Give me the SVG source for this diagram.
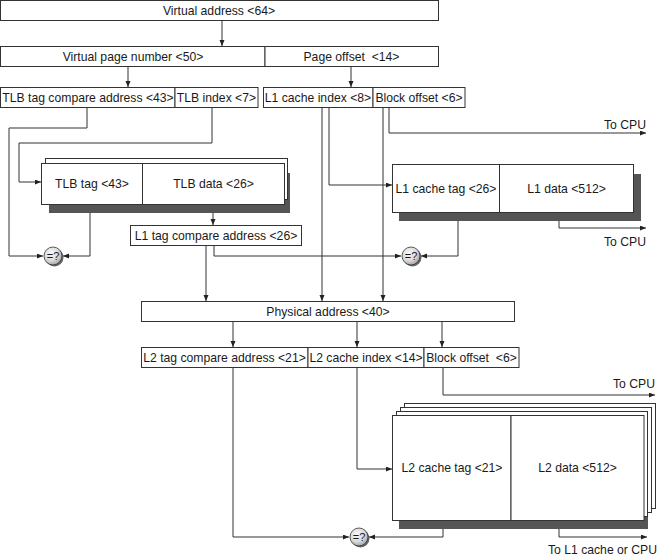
<svg xmlns="http://www.w3.org/2000/svg" width="659" height="556" viewBox="0 0 659 556">
<style>
  .box{fill:#fff;stroke:#333;stroke-width:1}
  .shadow{fill:#555;stroke:none}
  .t{font-family:"Liberation Sans",Arial,sans-serif;font-size:12.2px;fill:#1a1a1a;text-anchor:middle}
  .tr{font-family:"Liberation Sans",Arial,sans-serif;font-size:12.2px;fill:#1a1a1a;text-anchor:end}
  .ln{fill:none;stroke:#333;stroke-width:1}
  .arr{marker-end:url(#ah)}
  .cmp{fill:url(#cg);stroke:#333;stroke-width:0.8}
  .cmpsh{fill:#666}
  .ct{font-family:"Liberation Sans",Arial,sans-serif;font-size:11px;fill:#1a1a1a;text-anchor:middle}
</style>
<defs>
  <marker id="ah" markerUnits="userSpaceOnUse" markerWidth="7" markerHeight="6" refX="6" refY="2.5" orient="auto">
    <path d="M0,0 L6,2.5 L0,5 z" fill="#222"/>
  </marker>
  <radialGradient id="cg" cx="0.4" cy="0.35" r="0.7">
    <stop offset="0" stop-color="#fafafa"/>
    <stop offset="0.6" stop-color="#d8d8d8"/>
    <stop offset="1" stop-color="#9a9a9a"/>
  </radialGradient>
</defs>

<g id="connectors">
  <path class="ln arr" d="M222,20 V46"/>
  <path class="ln arr" d="M128,66 V87"/>
  <path class="ln arr" d="M351,66 V87"/>
  <path class="ln arr" d="M87,107 V128 H9 V256 H43"/>
  <path class="ln arr" d="M212,107 V143 H19 V182 H41"/>
  <path class="ln arr" d="M90,204 V256 H63"/>
  <path class="ln arr" d="M213,213 V225"/>
  <path class="ln arr" d="M214,245 V256 H401"/>
  <path class="ln arr" d="M206,245 V301"/>
  <path class="ln arr" d="M322,107 V301"/>
  <path class="ln arr" d="M329,107 V185 H392"/>
  <path class="ln arr" d="M383,107 V301"/>
  <path class="ln arr" d="M389,107 V133 H646"/>
  <path class="ln arr" d="M458,221 V256 H421"/>
  <path class="ln arr" d="M559,221 V228 H646"/>
  <path class="ln arr" d="M233,321 V347"/>
  <path class="ln arr" d="M357,321 V347"/>
  <path class="ln arr" d="M442,321 V347"/>
  <path class="ln arr" d="M233,367 V537 H349"/>
  <path class="ln arr" d="M357,367 V469 H392"/>
  <path class="ln arr" d="M443,367 V395 H655"/>
  <path class="ln arr" d="M443,529 V537 H369"/>
  <path class="ln arr" d="M559,529 V537 H647"/>
</g>

<g id="virtual-address">
  <rect class="box" x="0.5" y="0.5" width="438" height="20"/>
  <text class="t" x="219" y="14.5">Virtual address &lt;64&gt;</text>
</g>

<g id="virtual-page-number">
  <rect class="box" x="0.5" y="46.5" width="264.5" height="20"/>
  <text class="t" x="133" y="60.5">Virtual page number &lt;50&gt;</text>
</g>
<g id="page-offset">
  <rect class="box" x="265" y="46.5" width="173.5" height="20"/>
  <text class="t" x="351.5" y="60.5" xml:space="preserve">Page offset  &lt;14&gt;</text>
</g>

<g id="tlb-tag-compare">
  <rect class="box" x="0.5" y="87.5" width="174.5" height="20"/>
  <text class="t" x="88" y="101.5">TLB tag compare address &lt;43&gt;</text>
</g>
<g id="tlb-index">
  <rect class="box" x="175" y="87.5" width="83" height="20"/>
  <text class="t" x="216.5" y="101.5">TLB index &lt;7&gt;</text>
</g>
<g id="l1-cache-index">
  <rect class="box" x="263.5" y="87.5" width="109.5" height="20"/>
  <text class="t" x="318" y="101.5">L1 cache index &lt;8&gt;</text>
</g>
<g id="l1-block-offset">
  <rect class="box" x="373" y="87.5" width="92" height="20"/>
  <text class="t" x="419" y="101.5">Block offset &lt;6&gt;</text>
</g>

<g id="tlb">
  <rect class="shadow" x="49" y="173" width="241" height="40"/>
  <rect class="box" x="45.5" y="158.5" width="242" height="41"/>
  <rect class="box" x="41.5" y="163.5" width="101" height="41"/>
  <rect class="box" x="142.5" y="163.5" width="142" height="41"/>
  <text class="t" x="92" y="188">TLB tag &lt;43&gt;</text>
  <text class="t" x="213.5" y="188">TLB data &lt;26&gt;</text>
</g>

<g id="l1-tag-compare">
  <rect class="box" x="130.5" y="225.5" width="171" height="20"/>
  <text class="t" x="216" y="239.5">L1 tag compare address &lt;26&gt;</text>
</g>

<g id="l1-cache">
  <rect class="shadow" x="399" y="174" width="242" height="47"/>
  <rect class="box" x="392.5" y="164.5" width="107" height="48"/>
  <rect class="box" x="499.5" y="164.5" width="134" height="48"/>
  <text class="t" x="446" y="192.5">L1 cache tag &lt;26&gt;</text>
  <text class="t" x="566.5" y="192.5">L1 data &lt;512&gt;</text>
</g>

<g id="physical-address">
  <rect class="box" x="141.5" y="301.5" width="373" height="20"/>
  <text class="t" x="328" y="315.5">Physical address &lt;40&gt;</text>
</g>

<g id="l2-tag-compare">
  <rect class="box" x="141.5" y="347.5" width="166.5" height="20"/>
  <text class="t" x="224.5" y="361.5">L2 tag compare address &lt;21&gt;</text>
</g>
<g id="l2-cache-index">
  <rect class="box" x="308" y="347.5" width="116" height="20"/>
  <text class="t" x="366" y="361.5">L2 cache index &lt;14&gt;</text>
</g>
<g id="l2-block-offset">
  <rect class="box" x="424" y="347.5" width="95" height="20"/>
  <text class="t" x="471.5" y="361.5" xml:space="preserve">Block offset  &lt;6&gt;</text>
</g>

<g id="l2-cache">
  <rect class="shadow" x="399" y="430" width="249" height="99"/>
  <rect class="box" x="404.5" y="403.5" width="251" height="105"/>
  <rect class="box" x="400.5" y="407.5" width="251" height="105"/>
  <rect class="box" x="396.5" y="411.5" width="251" height="105"/>
  <rect class="box" x="392.5" y="415.5" width="118.5" height="105"/>
  <rect class="box" x="511" y="415.5" width="133" height="105"/>
  <text class="t" x="452" y="472">L2 cache tag &lt;21&gt;</text>
  <text class="t" x="577.5" y="472">L2 data &lt;512&gt;</text>
</g>

<g id="tlb-comparator">
  <circle class="cmpsh" cx="54.5" cy="257.5" r="9"/>
  <circle class="cmp" cx="53" cy="256" r="9"/>
  <text class="ct" x="53" y="260">=?</text>
</g>
<g id="l1-comparator">
  <circle class="cmpsh" cx="412.5" cy="257.5" r="9"/>
  <circle class="cmp" cx="411" cy="256" r="9"/>
  <text class="ct" x="411" y="260">=?</text>
</g>
<g id="l2-comparator">
  <circle class="cmpsh" cx="360.5" cy="538.5" r="9"/>
  <circle class="cmp" cx="359" cy="537" r="9"/>
  <text class="ct" x="359" y="541">=?</text>
</g>

<g id="outputs">
  <text class="tr" x="646" y="129">To CPU</text>
  <text class="tr" x="646" y="246">To CPU</text>
  <text class="tr" x="655" y="388">To CPU</text>
  <text class="tr" x="657" y="554">To L1 cache or CPU</text>
</g>
</svg>
